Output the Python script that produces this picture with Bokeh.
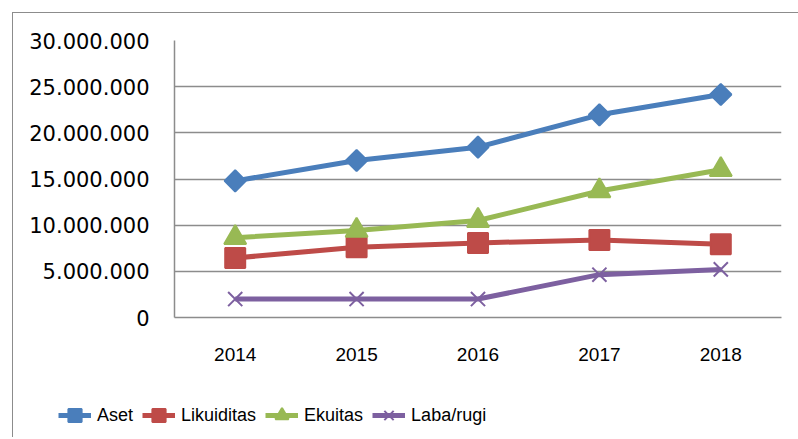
import math
from bokeh.plotting import figure
from bokeh.layouts import column
from bokeh.models import (FixedTicker, CustomJSTickFormatter, Legend, LegendItem,
                          FactorRange, Range1d)
from bokeh.embed import file_html
from bokeh.resources import INLINE

years = ["2014", "2015", "2016", "2017", "2018"]
aset = [14800000, 17000000, 18450000, 21950000, 24150000]
likuiditas = [6450000, 7600000, 8080000, 8400000, 7930000]
ekuitas = [8650000, 9420000, 10500000, 13700000, 16000000]
laba_rugi = [2000000, 2000000, 2000000, 4640000, 5210000]
y_ticks = [0, 5000000, 10000000, 15000000, 20000000, 25000000, 30000000]

series = [
    ("Aset", aset, "#4a7ebb", "square", 15, math.pi / 4),
    ("Likuiditas", likuiditas, "#be4b48", "square", 20, 0),
    ("Ekuitas", ekuitas, "#98b954", "triangle", 22, 0),
    ("Laba/rugi", laba_rugi, "#7d60a0", "x", 20, 0),
]

GRID = "#8c8c8c"

p = figure(width=785, height=380, x_range=FactorRange(*years), y_range=Range1d(0, 30000000),
           output_backend="svg", toolbar_location=None,
           min_border_left=161, min_border_right=17, min_border_top=27, min_border_bottom=76)
p.frame_align = False
p.outline_line_color = None
p.xgrid.grid_line_color = None
p.ygrid.grid_line_color = GRID
p.ygrid.grid_line_width = 1.5

p.yaxis.ticker = FixedTicker(ticks=y_ticks)
p.yaxis.formatter = CustomJSTickFormatter(
    code=r"return Math.round(tick).toString().replace(/\B(?=(\d{3})+(?!\d))/g, '.');")
p.yaxis.major_tick_out = 0
p.yaxis.major_tick_in = 0
p.yaxis.minor_tick_out = 0
p.yaxis.minor_tick_in = 0
p.yaxis.axis_line_color = GRID
p.yaxis.axis_line_width = 1.5
p.yaxis.major_label_text_font = "DejaVu Sans"
p.yaxis.major_label_text_font_size = "21px"
p.yaxis.major_label_text_color = "#000000"
p.yaxis.major_label_standoff = 25

p.xaxis.major_tick_out = 0
p.xaxis.major_tick_in = 0
p.xaxis.axis_line_color = GRID
p.xaxis.axis_line_width = 1.5
p.xaxis.major_label_text_font = "Liberation Sans"
p.xaxis.major_label_text_font_size = "19px"
p.xaxis.major_label_text_color = "#000000"
p.xaxis.major_label_standoff = 30

for name, vals, color, marker, size, angle in series:
    p.line(years, vals, line_color=color, line_width=5)
    p.scatter(years, vals, marker=marker, size=size, angle=angle,
              fill_color=color, line_color=color, line_width=2)

# legend strip (its own small figure so the legend can sit left of the plot frame)
lf = figure(width=785, height=44, output_backend="svg", toolbar_location=None,
            x_axis_type=None, y_axis_type=None, x_range=Range1d(0, 1), y_range=Range1d(0, 1),
            min_border_left=0, min_border_right=0, min_border_top=0, min_border_bottom=0)
lf.frame_align = False
lf.outline_line_color = None
items = []
for name, vals, color, marker, size, angle in series:
    lr = lf.line(x=[math.nan], y=[math.nan], line_color=color, line_width=5)
    sr = lf.scatter(x=[math.nan], y=[math.nan], marker=marker, angle=angle,
                    fill_color=color, line_color=color, line_width=2)
    items.append(LegendItem(label=name, renderers=[lr, sr]))

legend = Legend(items=items, orientation="horizontal", location=(45, 5),
                glyph_width=33, glyph_height=34, label_standoff=6, spacing=9,
                padding=0, margin=0, border_line_color=None,
                background_fill_alpha=0, label_text_font="Liberation Sans",
                label_text_font_size="18px", label_text_color="#000000")
lf.add_layout(legend, "center")

layout = column(p, lf, spacing=0, margin=(12, 0, 0, 12),
                styles={"border-left": "1px solid #8c8c8c", "border-top": "1px solid #8c8c8c"})

open("out.html", "w").write(file_html(layout, INLINE))
